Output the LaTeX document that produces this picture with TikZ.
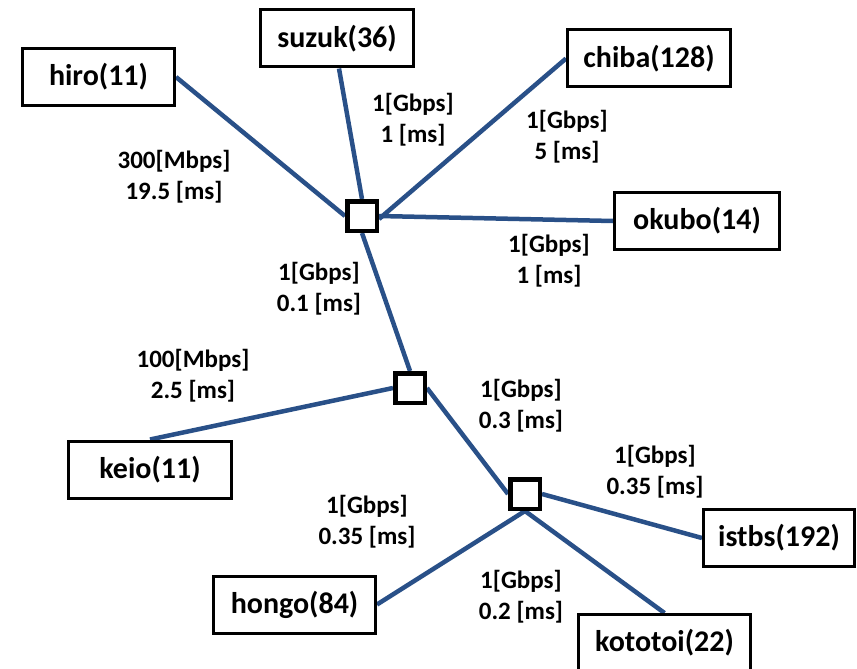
\documentclass[tikz,border=0pt]{standalone}
\usepackage{fontspec}
\setmainfont{Carlito}
\usetikzlibrary{backgrounds}
\definecolor{linkblue}{RGB}{41,80,136}
\begin{document}
\begin{tikzpicture}[x=1pt,y=-1pt,
  host/.style={draw=black, line width=3pt, fill=white,
    font=\fontsize{30}{36}\selectfont\bfseries, inner sep=0pt, minimum height=57pt},
  sw/.style={draw=black, line width=4.5pt, fill=white, minimum size=29.5pt, inner sep=0pt},
  link/.style={draw=linkblue, line width=4.5pt},
  lbl/.style={font=\fontsize{25}{31}\selectfont\bfseries, align=center, inner sep=0pt}]
\useasboundingbox (0,0) rectangle (857,669);

% end hosts
\node[host, minimum width=152pt] (hiro)    at (98.5,77)   {hiro(11)};
\node[host, minimum width=153pt] (suzuk)   at (337,38.5)  {suzuk(36)};
\node[host, minimum width=163pt] (chiba)   at (649,58.5)  {chiba(128)};
\node[host, minimum width=165pt] (okubo)   at (697,221)   {okubo(14)};
\node[host, minimum width=163pt] (keio)    at (150,469.5) {keio(11)};
\node[host, minimum width=151pt] (istbs)   at (779,538)   {istbs(192)};
\node[host, minimum width=162pt] (hongo)   at (294.5,604.5) {hongo(84)};
\node[host, minimum width=172pt] (kototoi) at (664.5,643) {kototoi(22)};

% switches
\node[sw] (s1) at (362,216) {};
\node[sw] (s2) at (410,388) {};
\node[sw] (s3) at (525,494) {};

% links
\begin{scope}[on background layer]
\draw[link] (hiro.east)   -- (s1.west);
\draw[link] (suzuk.south) ++(2,0) -- (s1.north);
\draw[link] (chiba.west)  -- ([yshift=-3pt]s1.east);
\draw[link] (okubo.west)  -- (s1.east);
\draw[link] (s1.south)    -- (s2.north);
\draw[link] (keio.north)  -- (s2.west);
\draw[link] (s2.east)     -- (s3.west);
\draw[link] (s3.east)     -- (istbs.west);
\draw[link] (s3.south)    -- (hongo.east);
\draw[link] (s3.south)    -- (kototoi.north);
\end{scope}

% link labels
\node[lbl] (l-hiro)  at (174,177) {300[Mbps]\\19.5 [ms]};
\node[lbl] (l-suzuk) at (413,120) {1[Gbps]\\1 [ms]};
\node[lbl] (l-chiba) at (567,137) {1[Gbps]\\5 [ms]};
\node[lbl] (l-okubo) at (549,261) {1[Gbps]\\1 [ms]};
\node[lbl] (l-s12)   at (319,289) {1[Gbps]\\0.1 [ms]};
\node[lbl] (l-keio)  at (193,376) {100[Mbps]\\2.5 [ms]};
\node[lbl] (l-s23)   at (521,406) {1[Gbps]\\0.3 [ms]};
\node[lbl] (l-istbs) at (655,472) {1[Gbps]\\0.35 [ms]};
\node[lbl] (l-hongo) at (367,522) {1[Gbps]\\0.35 [ms]};
\node[lbl] (l-koto)  at (521,597) {1[Gbps]\\0.2 [ms]};
\end{tikzpicture}
\end{document}
